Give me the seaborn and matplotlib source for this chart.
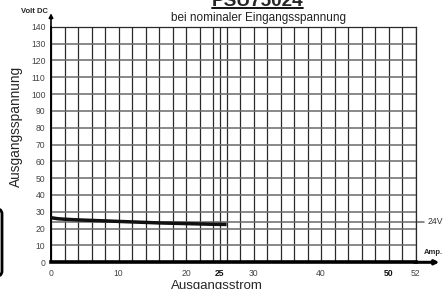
import numpy as np
import pandas as pd
import matplotlib
matplotlib.use("Agg")
import matplotlib.pyplot as plt
from matplotlib.patches import FancyBboxPatch
from matplotlib.lines import Line2D
import seaborn as sns

# Kennlinie PSU75024
strom = [0, 1, 2, 4, 6, 8, 10, 12, 14, 16, 18, 20, 22, 24, 26]
spannung = [26.5, 25.9, 25.6, 25.2, 24.9, 24.6, 24.3, 24.0, 23.7, 23.4, 23.2, 23.0, 22.8, 22.6, 22.5]
nennspannung = 24
x_ticks = [0, 10, 20, 25, 30, 40, 50, 54]
x_labels = ['0', '10', '20', '25', '30', '40', '50', '52']
y_ticks = list(range(0, 141, 10))

df = pd.DataFrame({'Strom': strom, 'Spannung': spannung})

sns.set_style('white')
plt.rcParams['font.family'] = ['Liberation Sans', 'DejaVu Sans']

W, H = 443, 289
fig = plt.figure(figsize=(W / 100, H / 100), dpi=100)
ax = fig.add_axes([51 / W, 1 - 262.3 / H, (415.7 - 51) / W, (262.3 - 26.7) / H])

sns.lineplot(data=df, x='Strom', y='Spannung', ax=ax, color='#111111', lw=2.5,
             solid_capstyle='butt', zorder=5)

ax.set_xlim(0, 54)
ax.set_ylim(0, 140)

ax.set_xticks(x_ticks)
ax.set_xticklabels(x_labels)
ax.set_xticks(range(0, 55, 2), minor=True)
ax.set_yticks(y_ticks)
ax.set_yticks(range(5, 140, 10), minor=True)

ax.grid(True, axis='x', which='both', color='#2a2a2a', lw=0.9)
ax.grid(True, axis='y', which='major', color='#6a6a6a', lw=1.1)
ax.set_axisbelow(True)

ax.tick_params(axis='both', which='both', direction='out', colors='#222222',
               labelcolor='#444444', labelsize=6.2)
ax.tick_params(axis='x', which='major', length=3, width=0.8, pad=1.5)
ax.tick_params(axis='x', which='minor', length=2.5, width=0.8)
ax.tick_params(axis='y', which='major', length=3, width=0.8, pad=1)
ax.tick_params(axis='y', which='minor', length=2, width=0.8)
for lab in ax.get_xticklabels():
    if lab.get_text() in ('25', '50'):
        lab.set_fontweight('bold')
        lab.set_color('#111111')

for s in ('top', 'right'):
    ax.spines[s].set_color('#2a2a2a')
    ax.spines[s].set_linewidth(0.9)
ax.spines['left'].set_color('black')
ax.spines['left'].set_linewidth(1.4)
ax.spines['bottom'].set_color('black')
ax.spines['bottom'].set_linewidth(2.6)
ax.spines['bottom'].set_zorder(6)

# Achsenpfeile
ax.annotate('', xy=(0, 148), xytext=(0, 139), annotation_clip=False,
            arrowprops=dict(arrowstyle='-|>', color='black', lw=1.2,
                            mutation_scale=6, shrinkA=0, shrinkB=0))
ax.annotate('', xy=(57.5, 0), xytext=(53.8, 0), annotation_clip=False,
            arrowprops=dict(arrowstyle='-|>', color='black', lw=2.2,
                            mutation_scale=6, shrinkA=0, shrinkB=0))

# 24V Linie
ax.plot([0, 55.3], [nennspannung, nennspannung], color='#6a6a6a', lw=1.1,
        clip_on=False, zorder=2)
ax.text(55.8, nennspannung, '24V', fontsize=6.2, color='#333333',
        va='center', ha='left')

ax.set_xlabel('Ausgangsstrom', fontsize=9.5)
ax.xaxis.set_label_coords((216.7 - 51) / 364.7, (262.3 - 279.5) / 235.6)
ax.set_ylabel('Ausgangsspannung', fontsize=9.8)
ax.yaxis.set_label_coords((23.3 - 51) / 364.7, (262.3 - 126.7) / 235.6)

ax.text(-0.5, 149, 'Volt DC', fontsize=5.5, fontweight='bold', ha='right',
        va='center', clip_on=False)
ax.text(55.2, 3.5, 'Amp.', fontsize=5.5, fontweight='bold', ha='left',
        va='bottom', clip_on=False)

# Titel
fig.text(257.5 / W, 1 - 6.5 / H, 'PSU75024', fontsize=13.7, fontweight='bold',
         ha='center', va='baseline')
fig.add_artist(Line2D([211.7 / W, 303.3 / W], [1 - 8.2 / H, 1 - 8.2 / H],
                      color='black', lw=1.3, transform=fig.transFigure))
fig.text(258.7 / W, 1 - 18.3 / H, 'bei nominaler Eingangsspannung',
         fontsize=8.5, ha='center', va='center', color='#222222')

# Rand links (angeschnitten)
fig.add_artist(FancyBboxPatch((-20 / W, 1 - 277 / H), 22 / W, 69 / H,
                              boxstyle='round,pad=0,rounding_size=0.02',
                              transform=fig.transFigure, fill=False,
                              edgecolor='black', lw=2))

fig.savefig('out.png', dpi=100)
